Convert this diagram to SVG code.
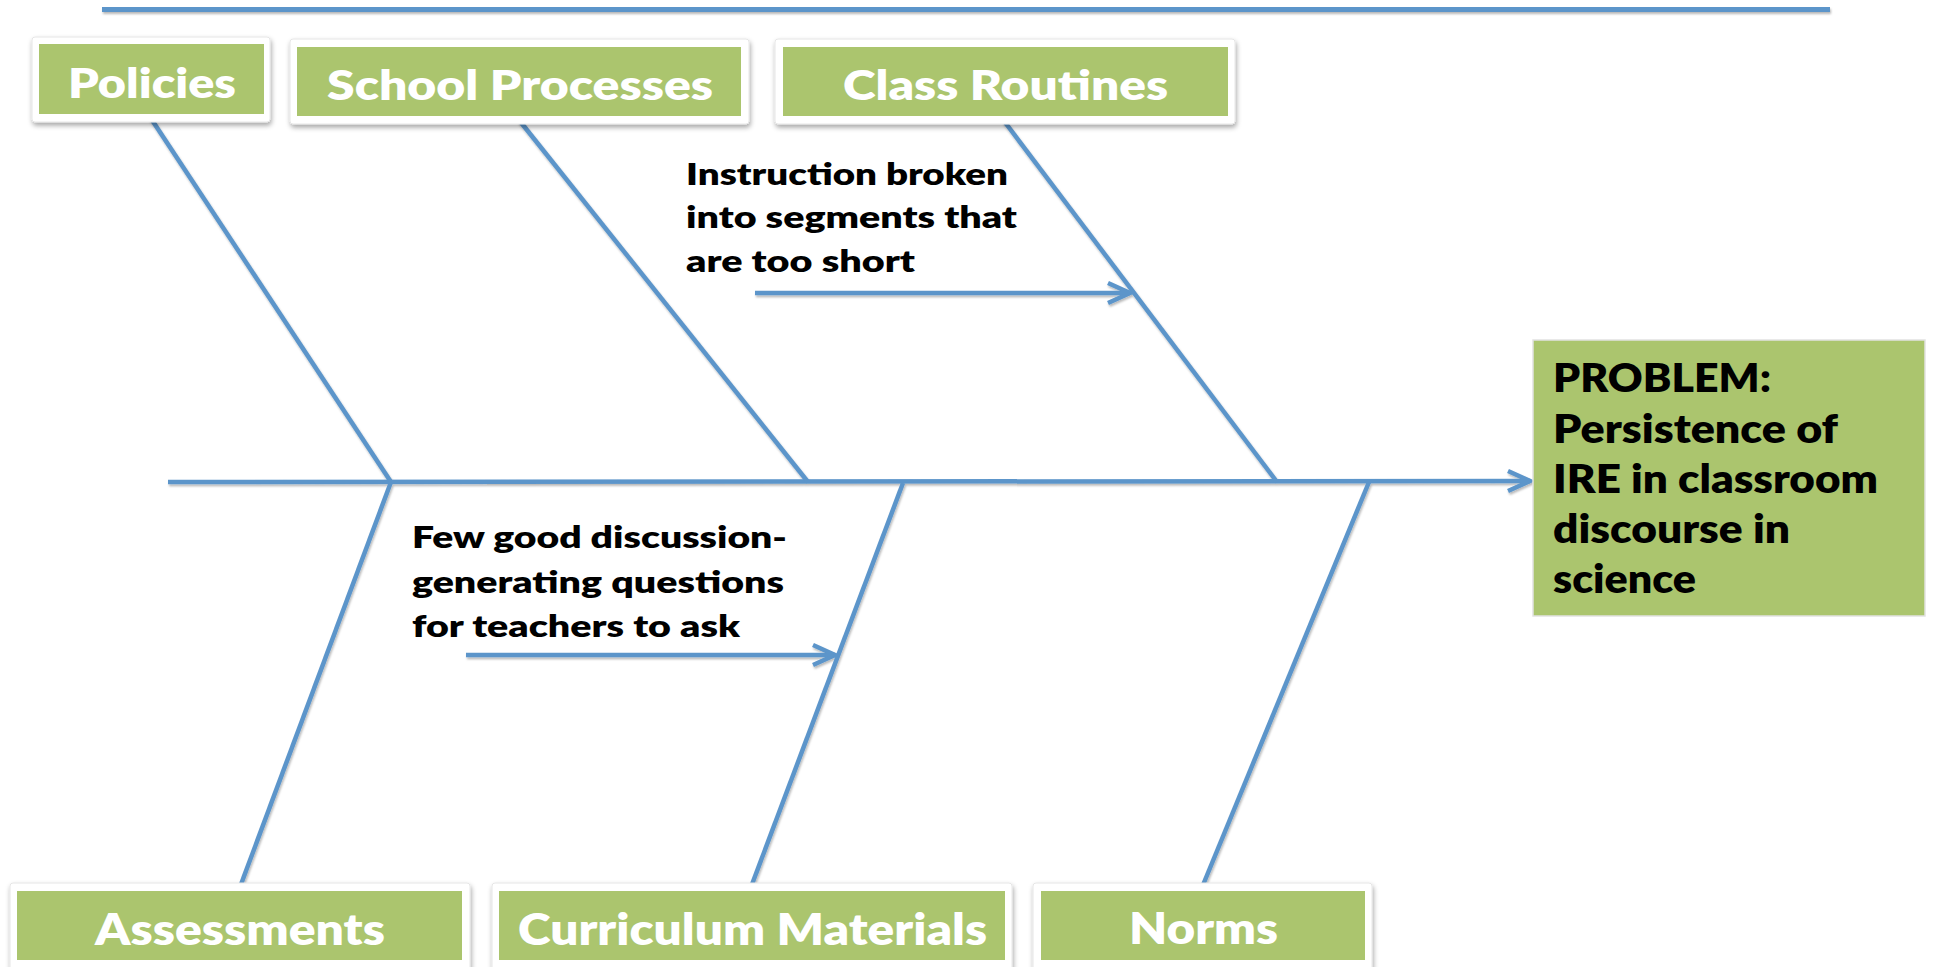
<svg xmlns="http://www.w3.org/2000/svg" width="1935" height="967" viewBox="0 0 1935 967">
  <style>
    .frame { fill: #ffffff; stroke: #e6e6e6; stroke-width: 1; filter: url(#boxShadow); }
    .cat { fill: #abc56e; }
    .cat-label { font-family: Lato, "Noto Sans", "Liberation Sans", sans-serif; font-weight: 800; fill: #ffffff; text-anchor: middle; }
    .top-label { font-size: 42px; }
    .bottom-label { font-size: 44px; }
    .cause { font-family: Lato, "Noto Sans", "Liberation Sans", sans-serif; font-weight: 800; font-size: 30px; fill: #000000; }
    .problem-text { font-family: Lato, "Noto Sans", "Liberation Sans", sans-serif; font-weight: 800; font-size: 40px; fill: #000000; }
    .bone { fill: none; stroke: #5c95ca; stroke-width: 4.5; stroke-linecap: butt; }
  </style>
  <defs>
    <filter id="boxShadow" x="-10%" y="-20%" width="120%" height="150%">
      <feDropShadow dx="1" dy="3" stdDeviation="2.5" flood-color="#000000" flood-opacity="0.35"/>
    </filter>
    <filter id="lineShadow" filterUnits="userSpaceOnUse" x="0" y="0" width="1935" height="967">
      <feDropShadow dx="1" dy="2" stdDeviation="1.2" flood-color="#000000" flood-opacity="0.28"/>
    </filter>
    <marker id="openArrow" viewBox="-26 -14 30 28" refX="0" refY="0" markerWidth="30" markerHeight="28" markerUnits="userSpaceOnUse" orient="auto" overflow="visible">
      <path d="M-22,-10 L0,0 L-22,10" fill="none" stroke="#5c95ca" stroke-width="4.5" stroke-linejoin="miter"/>
    </marker>
  </defs>

  <rect width="1935" height="967" fill="#ffffff"/>

  <!-- header rule -->
  <line x1="102" y1="9.5" x2="1830" y2="9.5" stroke="#5c95ca" stroke-width="5" filter="url(#lineShadow)"/>

  <!-- fishbone connectors -->
  <g id="connectors" filter="url(#lineShadow)">
    <line class="bone" x1="168" y1="482" x2="1530" y2="481" marker-end="url(#openArrow)"/>
    <line class="bone" x1="150" y1="117" x2="391" y2="482"/>
    <line class="bone" x1="519" y1="120" x2="808" y2="482"/>
    <line class="bone" x1="1004" y1="121" x2="1277" y2="482"/>
    <line class="bone" x1="391" y1="482" x2="240" y2="887"/>
    <line class="bone" x1="903" y1="483" x2="751" y2="887"/>
    <line class="bone" x1="1369" y1="482" x2="1203" y2="885"/>
    <line class="bone" x1="755" y1="293" x2="1130" y2="293" marker-end="url(#openArrow)"/>
    <line class="bone" x1="466" y1="655" x2="835" y2="655" marker-end="url(#openArrow)"/>
  </g>

  <!-- category boxes, top row -->
  <g id="policies">
    <rect class="frame" x="32" y="37" width="238" height="85" rx="3"/>
    <rect class="cat" x="39" y="44" width="225" height="70"/>
    <text class="cat-label top-label" x="152" y="98" textLength="168" lengthAdjust="spacingAndGlyphs">Policies</text>
  </g>
  <g id="school-processes">
    <rect class="frame" x="290" y="39" width="459" height="85" rx="3"/>
    <rect class="cat" x="297" y="47" width="444" height="69"/>
    <text class="cat-label top-label" x="520" y="100" textLength="386" lengthAdjust="spacingAndGlyphs">School Processes</text>
  </g>
  <g id="class-routines">
    <rect class="frame" x="775" y="39" width="460" height="85" rx="3"/>
    <rect class="cat" x="783" y="47" width="445" height="69"/>
    <text class="cat-label top-label" x="1005.5" y="100" textLength="325" lengthAdjust="spacingAndGlyphs">Class Routines</text>
  </g>

  <!-- category boxes, bottom row -->
  <g id="assessments">
    <rect class="frame" x="10" y="883" width="460" height="95" rx="3"/>
    <rect class="cat" x="17" y="891" width="445" height="69"/>
    <text class="cat-label bottom-label" x="240" y="945" textLength="290" lengthAdjust="spacingAndGlyphs">Assessments</text>
  </g>
  <g id="curriculum-materials">
    <rect class="frame" x="492" y="883" width="520" height="95" rx="3"/>
    <rect class="cat" x="499" y="891" width="506" height="69"/>
    <text class="cat-label bottom-label" x="752.5" y="945" textLength="469" lengthAdjust="spacingAndGlyphs">Curriculum Materials</text>
  </g>
  <g id="norms">
    <rect class="frame" x="1033" y="883" width="339" height="95" rx="3"/>
    <rect class="cat" x="1041" y="891" width="324" height="69"/>
    <text class="cat-label bottom-label" x="1203.5" y="944" textLength="149" lengthAdjust="spacingAndGlyphs">Norms</text>
  </g>

  <!-- cause notes -->
  <g id="cause-segments">
    <text class="cause" x="686" y="185" textLength="322" lengthAdjust="spacingAndGlyphs">Instruction broken</text>
    <text class="cause" x="686" y="228" textLength="331" lengthAdjust="spacingAndGlyphs">into segments that</text>
    <text class="cause" x="686" y="272" textLength="229" lengthAdjust="spacingAndGlyphs">are too short</text>
  </g>
  <g id="cause-questions">
    <text class="cause" x="412" y="548" textLength="375" lengthAdjust="spacingAndGlyphs">Few good discussion-</text>
    <text class="cause" x="412" y="593" textLength="372" lengthAdjust="spacingAndGlyphs">generating questions</text>
    <text class="cause" x="412" y="637" textLength="328" lengthAdjust="spacingAndGlyphs">for teachers to ask</text>
  </g>

  <!-- problem statement (fish head) -->
  <g id="problem">
    <rect x="1533" y="340" width="392" height="276" fill="#abc56e" stroke="#e2e2e2" stroke-width="1.5"/>
    <text class="problem-text" x="1553" y="392" textLength="218" lengthAdjust="spacingAndGlyphs">PROBLEM:</text>
    <text class="problem-text" x="1553" y="443" textLength="285" lengthAdjust="spacingAndGlyphs">Persistence of</text>
    <text class="problem-text" x="1553" y="493" textLength="325" lengthAdjust="spacingAndGlyphs">IRE in classroom</text>
    <text class="problem-text" x="1553" y="543" textLength="237" lengthAdjust="spacingAndGlyphs">discourse in</text>
    <text class="problem-text" x="1553" y="593" textLength="143" lengthAdjust="spacingAndGlyphs">science</text>
  </g>
</svg>
